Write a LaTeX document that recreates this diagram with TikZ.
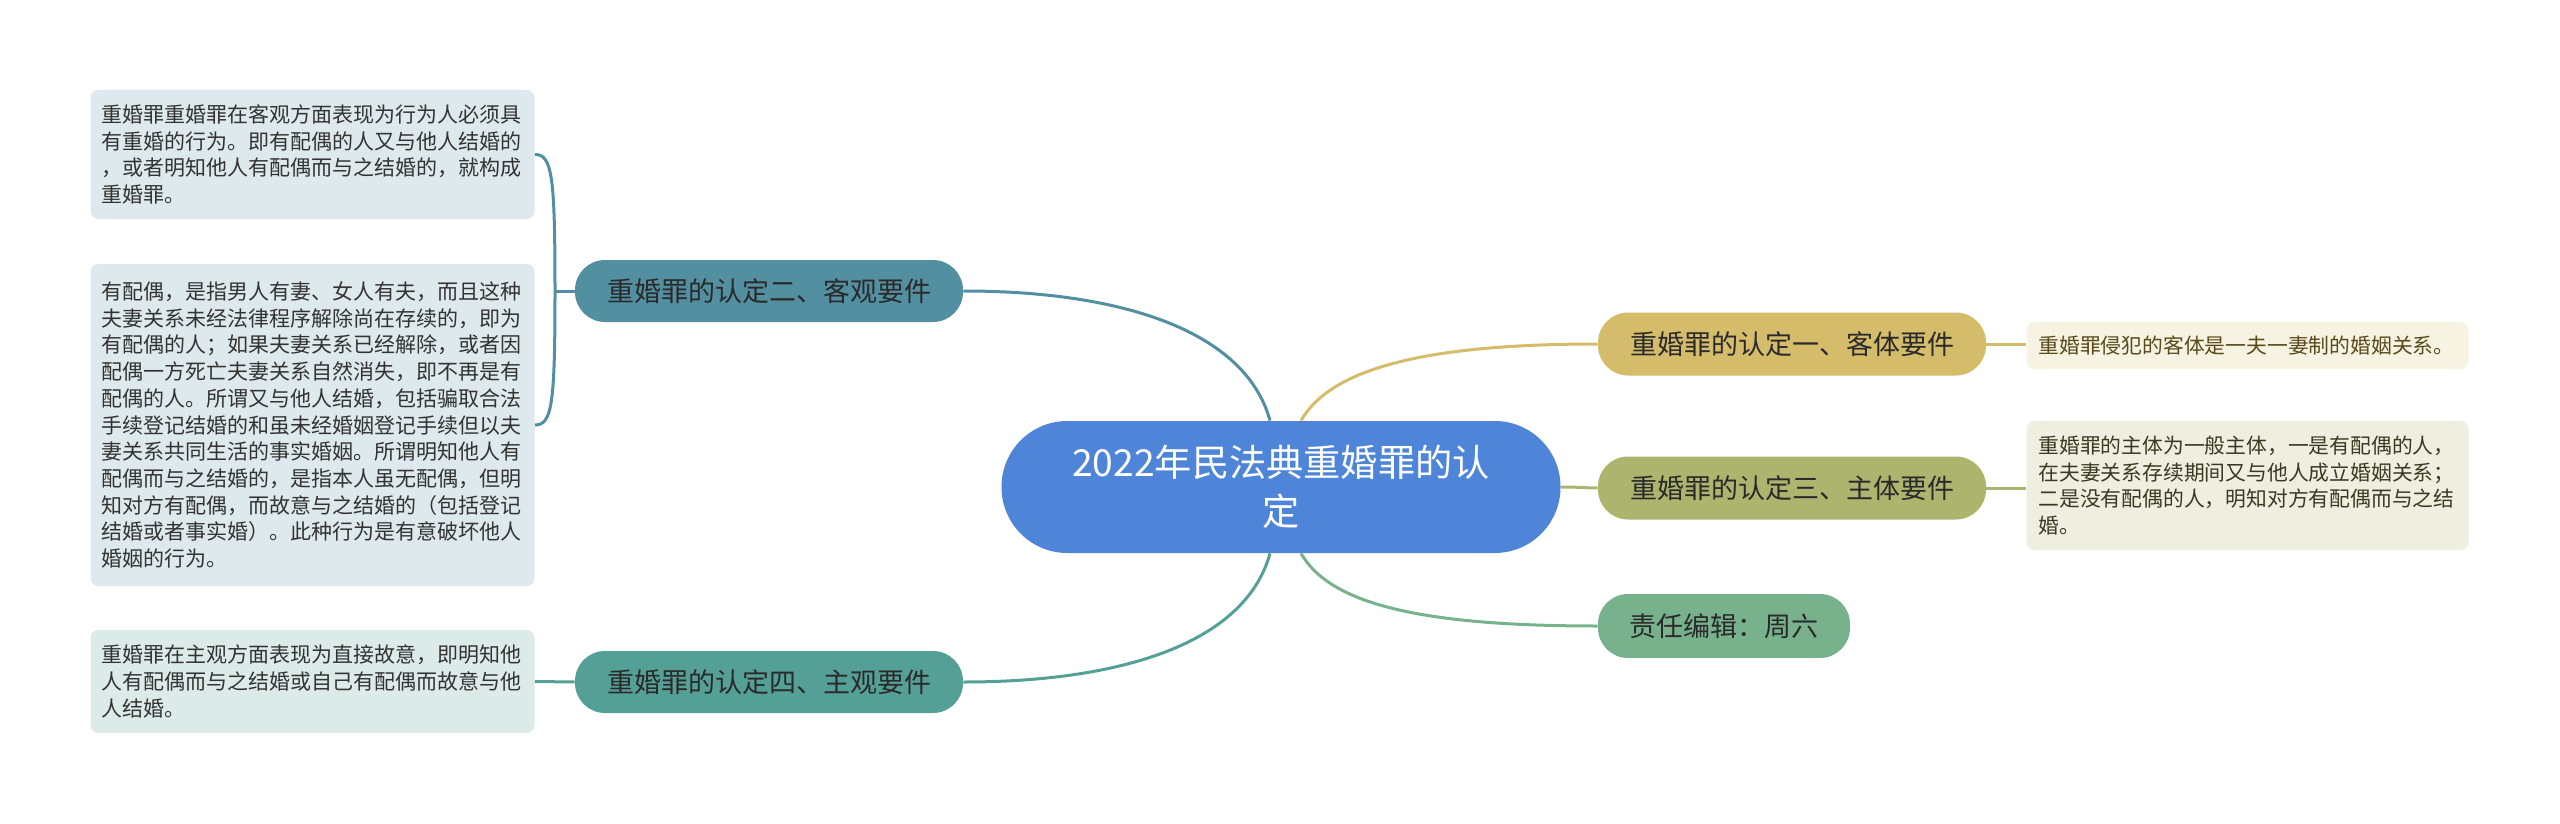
\documentclass[tikz,border=0pt]{standalone}
\usepackage{fontspec}
\setmainfont{Noto Sans CJK SC}
\usetikzlibrary{calc}
\definecolor{cblue}{HTML}{4E85D9}
\definecolor{cteal}{HTML}{528FA0}
\definecolor{cteal2}{HTML}{55A096}
\definecolor{cgold}{HTML}{D5BC6A}
\definecolor{colive}{HTML}{ADB46E}
\definecolor{cgreen}{HTML}{78B28C}
\definecolor{lbox}{HTML}{DDE9EC}
\definecolor{lbox3}{HTML}{DCEBE8}
\definecolor{rbox1}{HTML}{F6F3E3}
\definecolor{rbox2}{HTML}{EEEFE0}
\definecolor{ltxt}{HTML}{333333}
\definecolor{r1txt}{HTML}{5A4A1A}
\definecolor{r2txt}{HTML}{3A3A22}
\definecolor{ntxt}{HTML}{2A2A2A}
\tikzset{
  rootnode/.style={rectangle, rounded corners=32.9pt, minimum width=279.5pt, minimum height=66pt,
    inner sep=0pt, fill=cblue, text=white, align=center, font=\fontsize{18.6}{24.5}\selectfont},
  branch/.style={rectangle, rounded corners=15pt, minimum width=194pt, minimum height=31pt,
    inner sep=0pt, text=ntxt, font=\fontsize{13.5}{16}\selectfont},
  leftbox/.style={rectangle, rounded corners=4pt, text width=211pt, inner xsep=5.5pt, inner ysep=0pt,
    align=left, text=ltxt, font=\fontsize{10.5}{13.35}\selectfont},
  rightbox/.style={rectangle, rounded corners=4pt, text width=209pt, inner xsep=6pt, inner ysep=0pt,
    align=left, font=\fontsize{10.4}{13.3}\selectfont},
  conn/.style={line width=1.5pt}
}
\begin{document}
\begin{tikzpicture}[x=0.5pt,y=-0.5pt]
\fill[white] (0,0) rectangle (2560,824);
\useasboundingbox (0,0) rectangle (2560,824);

% root
\node[rootnode] (c) at (1281,487) {2022年民法典重婚罪的认\\定};

% branches
\node[branch, fill=cteal] (k2) at (769,291) {重婚罪的认定二、客观要件};
\node[branch, fill=cteal2] (k4) at (769,682) {重婚罪的认定四、主观要件};
\node[branch, fill=cgold, minimum height=31.5pt] (k1) at (1792,344) {重婚罪的认定一、客体要件};
\node[branch, fill=colive, minimum height=31.5pt] (k3) at (1792,488) {重婚罪的认定三、主体要件};
\node[branch, fill=cgreen, minimum width=126pt, minimum height=32pt] (ed) at (1724,626) {责任编辑：周六};

% left leaves
\node[leftbox, fill=lbox, minimum height=64.5pt] (t1) at (312.5,154.5) {重婚罪重婚罪在客观方面表现为行为人必须具\\有重婚的行为。即有配偶的人又与他人结婚的\\，或者明知他人有配偶而与之结婚的，就构成\\重婚罪。};
\node[leftbox, fill=lbox, minimum height=161pt] (t2) at (312.5,425) {有配偶，是指男人有妻、女人有夫，而且这种\\夫妻关系未经法律程序解除尚在存续的，即为\\有配偶的人；如果夫妻关系已经解除，或者因\\配偶一方死亡夫妻关系自然消失，即不再是有\\配偶的人。所谓又与他人结婚，包括骗取合法\\手续登记结婚的和虽未经婚姻登记手续但以夫\\妻关系共同生活的事实婚姻。所谓明知他人有\\配偶而与之结婚的，是指本人虽无配偶，但明\\知对方有配偶，而故意与之结婚的（包括登记\\结婚或者事实婚）。此种行为是有意破坏他人\\婚姻的行为。};
\node[leftbox, fill=lbox3, minimum height=51.5pt] (t3) at (312.5,681.5) {重婚罪在主观方面表现为直接故意，即明知他\\人有配偶而与之结婚或自己有配偶而故意与他\\人结婚。};

% right leaves
\node[rightbox, fill=rbox1, text=r1txt, minimum height=23.5pt] (r1) at (2247.5,345.5) {重婚罪侵犯的客体是一夫一妻制的婚姻关系。};
\node[rightbox, fill=rbox2, text=r2txt, minimum height=64.5pt] (r2) at (2247.5,485.5) {重婚罪的主体为一般主体，一是有配偶的人，\\在夫妻关系存续期间又与他人成立婚姻关系；\\二是没有配偶的人，明知对方有配偶而与之结\\婚。};

% root connectors
\draw[conn, cteal] ([xshift=-5.5pt]c.north) .. controls (1245,330) and (1120,291) .. (k2.east);
\draw[conn, cteal2] ([xshift=-5.5pt]c.south) .. controls (1245,644) and (1120,682) .. (k4.east);
\draw[conn, cgold] ([xshift=10pt]c.north) .. controls (1330,370) and (1420,344) .. (k1.west);
\draw[conn, colive] (c.east) .. controls (1580,487) and (1585,488) .. (k3.west);
\draw[conn, cgreen] ([xshift=10pt]c.south) .. controls (1330,604) and (1420,626) .. (ed.west);

% left leaf connectors
\coordinate (j2) at (555,291);
\draw[conn, cteal] (k2.west) -- (j2);
\draw[conn, cteal] (j2) .. controls (555,175) and (552,154.5) .. (t1.east);
\draw[conn, cteal] (j2) .. controls (555,405) and (552,425) .. (t2.east);
\draw[conn, cteal2] (k4.west) -- (t3.east);

% right leaf connectors
\draw[conn, cgold] (k1.east) -- (k1.east -| r1.west);
\draw[conn, colive] (k3.east) -- (k3.east -| r2.west);
\end{tikzpicture}
\end{document}
